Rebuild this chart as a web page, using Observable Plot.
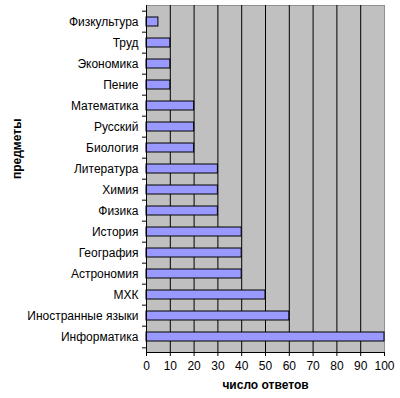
<!DOCTYPE html>
<html>
<head>
<meta charset="utf-8">
<script src="https://cdn.jsdelivr.net/npm/d3@7"></script>
<script src="https://cdn.jsdelivr.net/npm/@observablehq/plot@0.6"></script>
<style>
  html, body { margin: 0; padding: 0; background: white; }
</style>
</head>
<body>
<div id="chart"></div>
<script>
const categories = ["Физкультура","Труд","Экономика","Пение","Математика","Русский","Биология","Литература","Химия","Физика","История","География","Астрономия","МХК","Иностранные языки","Информатика"];
const values = [5,10,10,10,20,20,20,30,30,30,40,40,40,50,60,100];
const xTicks = [0,10,20,30,40,50,60,70,80,90,100];
const xTitle = "число ответов";
const yTitle = "предметы";

const data = categories.map((c, i) => ({subject: c, count: values[i]}));

const W = 400, H = 398, mL = 146, mR = 16, mT = 5, mB = 46;
const pxPerUnit = (W - mL - mR) / 100;
const step = (H - mT - mB) / categories.length;
const tickLen = 4 / pxPerUnit;

const chart = Plot.plot({
  width: W, height: H,
  marginLeft: mL, marginRight: mR, marginTop: mT, marginBottom: mB,
  style: {fontFamily: "'Liberation Sans', Arial, sans-serif", fontSize: "12px", color: "black", background: "white"},
  x: {domain: [0, 100], ticks: xTicks},
  y: {domain: categories, padding: 0},
  marks: [
    Plot.frame({fill: "#c0c0c0", stroke: "#909090"}),
    Plot.ruleX(xTicks.filter(t => t > 0 && t < 100), {stroke: "black", strokeWidth: 1}),
    Plot.barX(data, {x: "count", y: "subject", fill: "#9999ff", stroke: "black", strokeWidth: 1, insetTop: 6, insetBottom: 6}),
    Plot.frame({anchor: "left", stroke: "black"}),
    Plot.frame({anchor: "bottom", stroke: "black"}),
    Plot.ruleY(categories, {y: d => d, x1: -tickLen, x2: 0, dy: -step / 2, stroke: "black"}),
    Plot.ruleY(categories.slice(-1), {y: d => d, x1: -tickLen, x2: 0, dy: step / 2, stroke: "black"}),
    Plot.axisX({ticks: xTicks, tickSize: 4, tickPadding: 5, label: null, fontSize: 12}),
    Plot.axisY({tickSize: 0, tickPadding: 8, label: null, fontSize: 12}),
    Plot.text([xTitle], {frameAnchor: "bottom", dy: 36, fontWeight: "bold", fontSize: 12}),
    Plot.text([yTitle], {frameAnchor: "left", dx: -129, rotate: -90, fontWeight: "bold", fontSize: 12})
  ]
});
document.getElementById("chart").appendChild(chart);
</script>
</body>
</html>
